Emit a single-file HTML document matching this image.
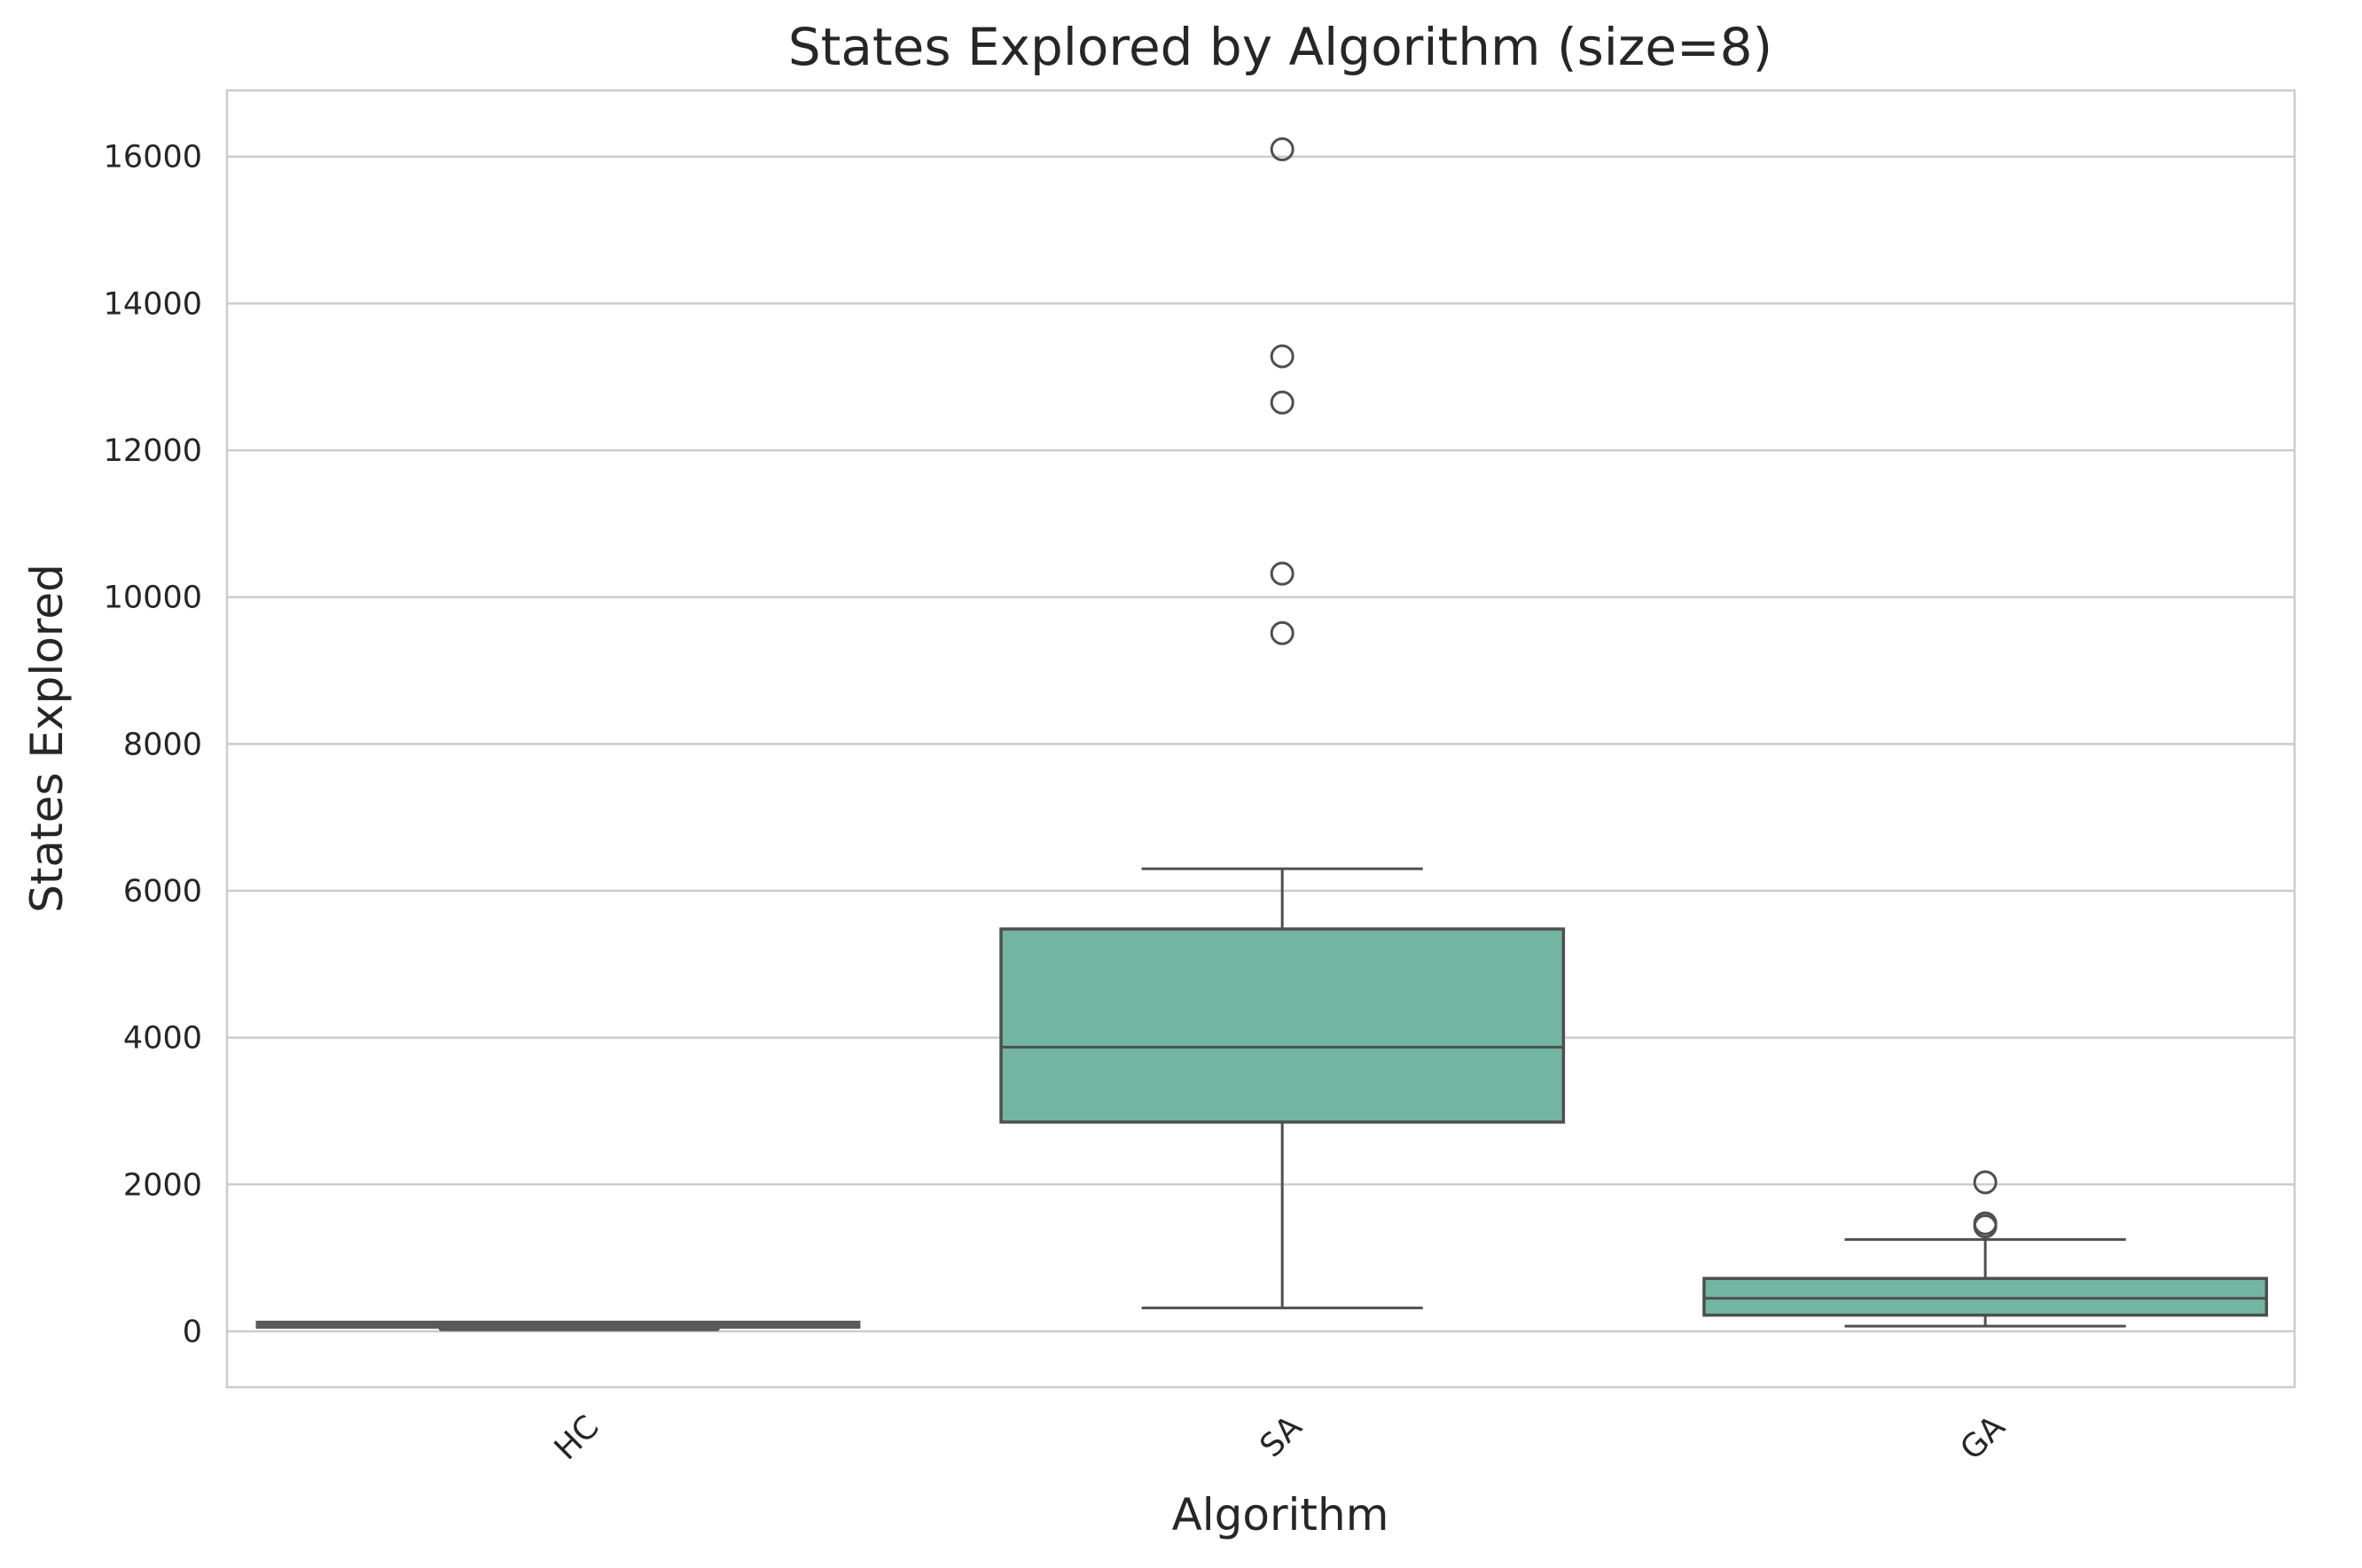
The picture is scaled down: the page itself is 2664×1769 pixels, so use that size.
<!DOCTYPE html>
<html><head><meta charset="utf-8"><style>
html,body{margin:0;padding:0;background:#fff;}
svg text{font-family:"DejaVu Sans","Liberation Sans",sans-serif;fill:#262626;}
</style></head><body>
<svg id="chart" width="2664" height="1764" viewBox="0 0 2664 1764" xmlns="http://www.w3.org/2000/svg">
<rect x="0" y="0" width="2664" height="1764" fill="#fff"/>
<g id="grid"></g>
<g id="boxes"></g>
<g id="ticks"></g>
<rect x="256" y="102" width="2332" height="1463" fill="none" stroke="#cccccc" stroke-width="2.5"/>
<text x="1444" y="73" font-size="58" text-anchor="middle">States Explored by Algorithm (size=8)</text>
<text x="1444" y="1726" font-size="50" text-anchor="middle">Algorithm</text>
<text transform="translate(70,833) rotate(-90)" font-size="50" text-anchor="middle">States Explored</text>
</svg>
<script>
const categories = ["HC","SA","GA"];
const whiskerLow = [60, 318, 70];
const q1 = [50, 2850, 220];
const median = [90, 3870, 450];
const q3 = [130, 5480, 720];
const whiskerHigh = [110, 6300, 1250];
const outliers = [[], [16100, 13280, 12650, 10320, 9510], [2030, 1470, 1430]];
const yTicks = [0, 2000, 4000, 6000, 8000, 10000, 12000, 14000, 16000];

const L=256,R=2588,T=102,B=1565;
const xMin=-0.501,xMax=2.44,yMin=-761,yMax=16902;
const xs=i=>L+(i-xMin)/(xMax-xMin)*(R-L);
const ys=v=>B-(v-yMin)/(yMax-yMin)*(B-T);
const NS="http://www.w3.org/2000/svg";
function mk(tag,attrs,parent){const e=document.createElementNS(NS,tag);for(const k in attrs)e.setAttribute(k,attrs[k]);document.getElementById(parent).appendChild(e);return e;}

yTicks.forEach(t=>{
  const g=mk('line',{x1:L,x2:R,y1:ys(t),y2:ys(t),stroke:'#cccccc','stroke-width':2.5},'grid');
  
  
  const tx=mk('text',{x:L-28,y:ys(t)+12,'font-size':35,'text-anchor':'end'},'ticks');
  tx.textContent=t;
  
  
});
const band=xs(1)-xs(0);
const stroke='#4f4f4f';
categories.forEach((c,i)=>{
  const cx=xs(i), hw=band*0.4, cw=band*0.2;
  const tx=mk('text',{transform:`translate(${cx+24},${1612}) rotate(-45)`,'font-size':36,'text-anchor':'end'},'ticks');
  tx.textContent=c;
  
  
  if(i===0){
    const ln=mk('line',{x1:cx-band*0.46,x2:cx+hw,y1:ys(median[i]),y2:ys(median[i]),stroke:'#5a5a5a','stroke-width':9},'boxes');
    
    
    const bx=mk('rect',{x:cx-band*0.2,y:ys(q3[i]),width:band*0.4,height:ys(q1[i])-ys(q3[i])+4,rx:3,fill:'#5a5a5a'},'boxes');
    
    
    return;
  }
  const w1=mk('line',{x1:cx,x2:cx,y1:ys(whiskerLow[i]),y2:ys(q1[i]),stroke:stroke,'stroke-width':3},'boxes');
  
  
  const w2=mk('line',{x1:cx,x2:cx,y1:ys(q3[i]),y2:ys(whiskerHigh[i]),stroke:stroke,'stroke-width':3},'boxes');
  
  
  [whiskerLow[i],whiskerHigh[i]].forEach(v=>{
    const cap=mk('line',{x1:cx-cw,x2:cx+cw,y1:ys(v),y2:ys(v),stroke:stroke,'stroke-width':3},'boxes');
    
    
  });
  const bx=mk('rect',{x:cx-hw,y:ys(q3[i]),width:2*hw,height:Math.max(ys(q1[i])-ys(q3[i]),1),fill:'#72b6a1',stroke:stroke,'stroke-width':3.5},'boxes');
  
  
  const md=mk('line',{x1:cx-hw,x2:cx+hw,y1:ys(median[i]),y2:ys(median[i]),stroke:stroke,'stroke-width':3},'boxes');
  
  
  outliers[i].forEach(v=>{
    const o=mk('circle',{cx:cx,cy:ys(v),r:12,fill:'none',stroke:stroke,'stroke-width':3},'boxes');
    
    
  });
});
</script>
</body></html>
